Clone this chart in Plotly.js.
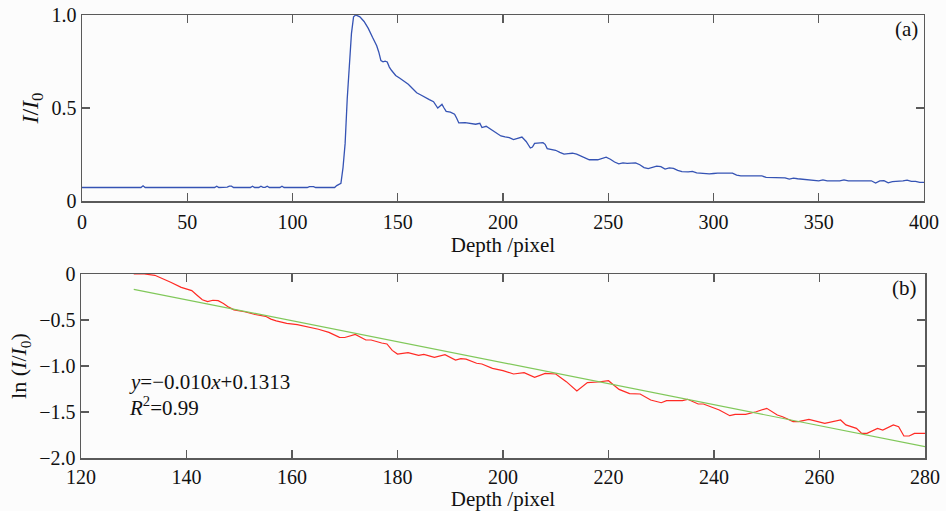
<!DOCTYPE html>
<html>
<head>
<meta charset="utf-8">
<script src="https://cdn.plot.ly/plotly-3.0.1.min.js"></script>
<style>html,body{margin:0;padding:0;background:#fcfcfc;}#chart{width:946px;height:511px;}</style>
</head>
<body>
<div id="chart"></div>
<script>
// Panel (a): normalized intensity vs depth
const depthA = [0,28,29,30,63,64,65,69,70,71,72,80,81,82,84,85,86,87,88,89,94,95,96,107,108,110,111,120,121,123,124,125,126,127,128,129,130,131,132,134,136,138,140,141,142,143,144,145,146,147,149,151,153,155,157,159,161,163,165,167,168,169,170,171,172,173,175,177,178,179,182,185,187,189,190,192,193,195,197,199,201,203,205,207,209,211,213,214,215,219,220,221,223,225,227,229,231,233,235,237,239,241,245,247,249,251,253,255,257,259,261,263,265,267,269,271,273,275,277,279,281,283,285,288,290,292,295,298,300,302,309,311,313,323,325,334,336,338,340,345,347,350,352,354,360,362,364,375,377,379,381,383,385,388,390,392,394,396,398,400];
const intensityA = [0.073,0.073,0.082,0.073,0.073,0.080,0.073,0.075,0.080,0.080,0.073,0.073,0.080,0.073,0.073,0.080,0.074,0.074,0.080,0.073,0.073,0.080,0.073,0.073,0.078,0.078,0.073,0.073,0.083,0.095,0.18,0.31,0.55,0.75,0.90,0.99,1.0,0.995,0.99,0.965,0.928,0.88,0.835,0.80,0.755,0.748,0.752,0.748,0.72,0.703,0.675,0.66,0.645,0.628,0.605,0.582,0.57,0.556,0.545,0.534,0.518,0.50,0.51,0.52,0.50,0.482,0.478,0.467,0.445,0.42,0.422,0.418,0.413,0.418,0.395,0.402,0.395,0.378,0.365,0.35,0.345,0.341,0.33,0.338,0.344,0.32,0.285,0.29,0.31,0.314,0.305,0.282,0.278,0.273,0.262,0.252,0.255,0.257,0.252,0.243,0.232,0.222,0.222,0.228,0.236,0.225,0.21,0.20,0.205,0.203,0.205,0.205,0.195,0.18,0.174,0.182,0.188,0.185,0.172,0.178,0.176,0.165,0.158,0.157,0.16,0.152,0.148,0.146,0.148,0.15,0.15,0.14,0.135,0.135,0.127,0.125,0.118,0.123,0.12,0.114,0.109,0.109,0.114,0.109,0.109,0.114,0.109,0.109,0.097,0.108,0.11,0.098,0.104,0.105,0.108,0.112,0.106,0.106,0.10,0.10];

// Panel (b): ln(I/I0) vs depth and linear fit
const depthB = [130,132,134,136,137,139,141,142,143,144,145,146,147,148,149,151,153,155,156,157,159,161,163,165,167,169,170,172,174,175,177,178,179,180,182,184,185,187,189,191,192,193,195,196,198,200,202,204,206,208,210,212,214,216,218,220,222,224,226,228,230,231,234,235,237,238,241,243,244,246,248,250,252,253,255,256,258,259,261,264,265,267,268,269,271,272,274,275,276,277,278,280];
const lnB = [0,0,-0.014,-0.06,-0.09,-0.145,-0.18,-0.23,-0.28,-0.30,-0.285,-0.29,-0.32,-0.36,-0.39,-0.41,-0.44,-0.46,-0.49,-0.51,-0.536,-0.55,-0.575,-0.60,-0.635,-0.688,-0.69,-0.656,-0.717,-0.717,-0.75,-0.76,-0.83,-0.87,-0.855,-0.884,-0.873,-0.905,-0.877,-0.935,-0.92,-0.925,-0.97,-0.978,-1.025,-1.05,-1.087,-1.072,-1.123,-1.08,-1.087,-1.17,-1.272,-1.18,-1.174,-1.16,-1.254,-1.30,-1.304,-1.37,-1.399,-1.377,-1.377,-1.362,-1.413,-1.413,-1.478,-1.54,-1.525,-1.525,-1.497,-1.46,-1.533,-1.551,-1.605,-1.605,-1.58,-1.594,-1.623,-1.587,-1.64,-1.678,-1.732,-1.732,-1.678,-1.696,-1.641,-1.659,-1.761,-1.761,-1.732,-1.732];
const fitX = [130,280];
const fitY = [-0.166,-1.877];

const ticksA = [0,50,100,150,200,250,300,350,400];
const ticksAy = [0,0.5,1.0];
const ticksAyText = ['0','0.5','1.0'];
const ticksB = [120,140,160,180,200,220,240,260,280];
const ticksBy = [0,-0.5,-1.0,-1.5,-2.0];
const ticksByText = ['0','\u22120.5','\u22121.0','\u22121.5','\u22122.0'];

const FONT = '"Liberation Serif", "DejaVu Serif", serif';
const axisCommon = {
  showline: true, linecolor: '#5a5a5a', linewidth: 1.5, mirror: 'ticks',
  ticks: 'inside', ticklen: 8, tickcolor: '#5a5a5a', tickwidth: 1.2,
  showgrid: false, zeroline: false,
  tickfont: {family: FONT, size: 20, color: '#111'}
};

const traces = [
  {x: depthA, y: intensityA, xaxis: 'x', yaxis: 'y', mode: 'lines',
   line: {color: '#3553b4', width: 1.3}, hoverinfo: 'skip'},
  {x: depthB, y: lnB, xaxis: 'x2', yaxis: 'y2', mode: 'lines',
   line: {color: '#ff2a24', width: 1.2}, hoverinfo: 'skip'},
  {x: fitX, y: fitY, xaxis: 'x2', yaxis: 'y2', mode: 'lines',
   line: {color: '#80c85a', width: 1.2}, hoverinfo: 'skip'}
];

const layout = {
  width: 946, height: 511,
  margin: {l: 81, r: 21, t: 15, b: 53},
  paper_bgcolor: '#fcfcfc', plot_bgcolor: '#fcfcfc',
  showlegend: false,
  font: {family: FONT, size: 20, color: '#111'},
  xaxis: Object.assign({}, axisCommon, {
    domain: [0.0012, 0.9988], range: [0, 400], anchor: 'y',
    tickvals: ticksA, ticktext: ticksA.map(String), ticklabelstandoff: 2,
    title: {text: 'Depth /pixel', font: {family: FONT, size: 21, color: '#111'}, standoff: 0}
  }),
  yaxis: Object.assign({}, axisCommon, {
    domain: [0.58, 1], range: [0, 1.0], anchor: 'x',
    tickvals: ticksAy, ticktext: ticksAyText,
    title: {text: '<i>I</i>/<i>I</i><sub>0</sub>', font: {family: FONT, size: 24, color: '#111'}, standoff: 6}
  }),
  xaxis2: Object.assign({}, axisCommon, {
    domain: [0, 1], range: [120, 280], anchor: 'y2',
    tickvals: ticksB, ticktext: ticksB.map(String), ticklabelstandoff: 0,
    title: {text: 'Depth /pixel', font: {family: FONT, size: 21, color: '#111'}, standoff: 2}
  }),
  yaxis2: Object.assign({}, axisCommon, {
    domain: [0, 0.4153], range: [-2.0, 0], anchor: 'x2',
    tickvals: ticksBy, ticktext: ticksByText,
    title: {text: 'ln (<i>I</i>/<i>I</i><sub>0</sub>)', font: {family: FONT, size: 22, color: '#111'}, standoff: 6}
  }),
  annotations: [
    {xref: 'x domain', yref: 'y domain', x: 0.995, y: 0.925, xanchor: 'right', yanchor: 'middle',
     text: '(a)', showarrow: false, font: {family: FONT, size: 21, color: '#111'}},
    {xref: 'x2 domain', yref: 'y2 domain', x: 0.993, y: 0.924, xanchor: 'right', yanchor: 'middle',
     text: '(b)', showarrow: false, font: {family: FONT, size: 21, color: '#111'}},
    {xref: 'x2 domain', yref: 'y2 domain', x: 0.0545, y: 0.413, xanchor: 'left', yanchor: 'middle',
     text: '<i>y</i>=\u22120.010<i>x</i>+0.1313', showarrow: false, font: {family: FONT, size: 21, color: '#111'}},
    {xref: 'x2 domain', yref: 'y2 domain', x: 0.0545, y: 0.282, xanchor: 'left', yanchor: 'middle',
     text: '<i>R</i><sup>2</sup>=0.99', showarrow: false, font: {family: FONT, size: 21, color: '#111'}}
  ]
};

Plotly.newPlot('chart', traces, layout, {staticPlot: true, displayModeBar: false});
</script>
</body>
</html>
